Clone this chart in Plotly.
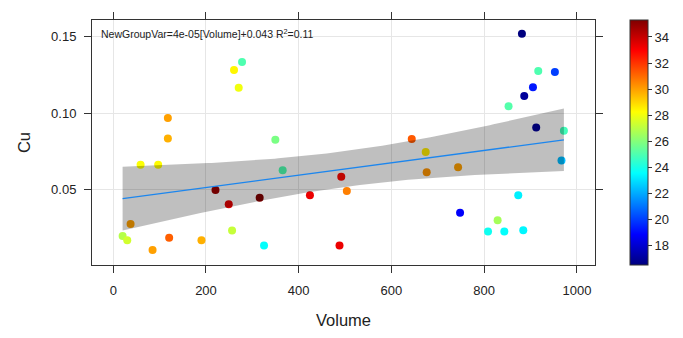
import numpy as np
import plotly.graph_objects as go

# Sample measurements: volume, copper concentration and the grouping variable
volume = [277.8, 260.5, 270.6, 117.8, 117.8, 349.6, 59.0, 96.9, 365.4, 220.5,
          249.1, 315.8, 424.2, 491.8, 37.4, 20.2, 30.2, 84.8, 120.6, 190.3,
          256.3, 325.2, 488.0, 881.4, 916.6, 952.5, 905.2, 886.4, 852.6, 643.8,
          912.2, 971.9, 673.9, 503.8, 676.0, 743.7, 966.7, 873.5, 748.0, 829.0,
          808.3, 843.4, 884.3]
cu = [0.1333, 0.1281, 0.1165, 0.0968, 0.0834, 0.0826, 0.0662, 0.0662, 0.0626, 0.0497,
      0.0404, 0.0447, 0.0462, 0.0583, 0.0275, 0.0197, 0.0168, 0.0105, 0.0185, 0.0168,
      0.0232, 0.0135, 0.0135, 0.1518, 0.1275, 0.1268, 0.1168, 0.1112, 0.1045, 0.0830,
      0.0905, 0.0884, 0.0746, 0.0490, 0.0613, 0.0645, 0.0690, 0.0462, 0.0348, 0.0299,
      0.0226, 0.0226, 0.0234]
group_var = [25.0, 28.4, 28.0, 30.0, 29.7, 25.8, 28.2, 28.3, 25.0, 34.8,
             33.5, 35.3, 33.3, 32.8, 30.0, 26.9, 27.4, 30.0, 31.2, 29.7,
             27.2, 23.6, 33.3, 16.5, 25.0, 20.0, 19.3, 17.0, 25.1, 31.3,
             17.0, 24.8, 28.6, 30.6, 30.2, 30.0, 22.3, 23.3, 18.8, 26.6,
             23.8, 23.6, 23.4]

x_ticks = [0, 200, 400, 600, 800, 1000]
y_ticks = [0.05, 0.10, 0.15]
y_tick_text = ["0.05", "0.10", "0.15"]
cbar_ticks = [18, 20, 22, 24, 26, 28, 30, 32, 34]
T_CRIT = 2.0195  # t(0.975, df = 41)

jet = [[0.0, "#00007F"], [0.125, "#0000FF"], [0.25, "#007FFF"], [0.375, "#00FFFF"],
       [0.5, "#7FFF7F"], [0.625, "#FFFF00"], [0.75, "#FF7F00"], [0.875, "#FF0000"],
       [1.0, "#7F0000"]]

# Linear fit with 95% confidence band for the mean
xv = np.array(volume)
yv = np.array(cu)
n = len(xv)
slope, intercept = np.polyfit(xv, yv, 1)
fitted = slope * xv + intercept
ss_res = np.sum((yv - fitted) ** 2)
ss_tot = np.sum((yv - yv.mean()) ** 2)
r2 = 1 - ss_res / ss_tot
s = np.sqrt(ss_res / (n - 2))
sxx = np.sum((xv - xv.mean()) ** 2)
xg = np.linspace(xv.min(), xv.max(), 120)
yg = slope * xg + intercept
half = T_CRIT * s * np.sqrt(1.0 / n + (xg - xv.mean()) ** 2 / sxx)
upper = yg + half
lower = yg - half

fig = go.Figure()

fig.add_trace(go.Scatter(
    x=volume, y=cu, mode="markers",
    marker=dict(size=8, color=group_var, colorscale=jet, showscale=True,
                line=dict(width=0),
                colorbar=dict(thickness=18, thicknessmode="pixels", len=1.0,
                              lenmode="fraction", x=1.07, xanchor="left", xpad=0,
                              y=0.5, yanchor="middle", ypad=0,
                              outlinewidth=1, outlinecolor="#333333",
                              tickvals=cbar_ticks, ticks="outside", ticklen=4,
                              tickcolor="#333333",
                              tickfont=dict(family="Liberation Sans, Arial", size=13,
                                            color="#222222"))),
    showlegend=False, hoverinfo="skip"))

fig.add_trace(go.Scatter(
    x=np.concatenate([xg, xg[::-1]]), y=np.concatenate([upper, lower[::-1]]),
    fill="toself", fillcolor="rgba(0,0,0,0.25)", line=dict(width=0),
    mode="lines", showlegend=False, hoverinfo="skip"))

fig.add_trace(go.Scatter(
    x=xg, y=yg, mode="lines", line=dict(color="#1C86EE", width=1.3),
    showlegend=False, hoverinfo="skip"))

label = "NewGroupVar={:.0e}[Volume]+{:.3f} R<sup>2</sup>={:.2f}".format(slope, intercept, r2)
fig.add_annotation(x=0.013, y=0.945, xref="paper", yref="paper", xanchor="left",
                   yanchor="middle", text=label, showarrow=False,
                   font=dict(family="Liberation Sans, Arial", size=10.5, color="#222222"))

axis_common = dict(showline=True, linecolor="#333333", linewidth=1, mirror="allticks",
                   ticks="outside", ticklen=7, tickcolor="#333333",
                   showgrid=True, gridcolor="#E6E6E6", gridwidth=1, zeroline=False,
                   tickfont=dict(family="Liberation Sans, Arial", size=13, color="#222222"))

fig.update_xaxes(range=[-45.8, 1039], tickvals=x_ticks, ticklabelstandoff=6,
                 title=dict(text="Volume", standoff=17,
                            font=dict(family="Liberation Sans, Arial", size=16.5,
                                      color="#222222")),
                 **axis_common)
fig.update_yaxes(range=[0.0007, 0.1608], tickvals=y_ticks, ticktext=y_tick_text,
                 ticklabelstandoff=5,
                 title=dict(text="Cu", standoff=16,
                            font=dict(family="Liberation Sans, Arial", size=16.5,
                                      color="#222222")),
                 **axis_common)

fig.update_layout(width=683, height=338, margin=dict(l=92, r=87.5, t=20, b=70),
                  plot_bgcolor="white", paper_bgcolor="white")

fig.write_html("out.html")
